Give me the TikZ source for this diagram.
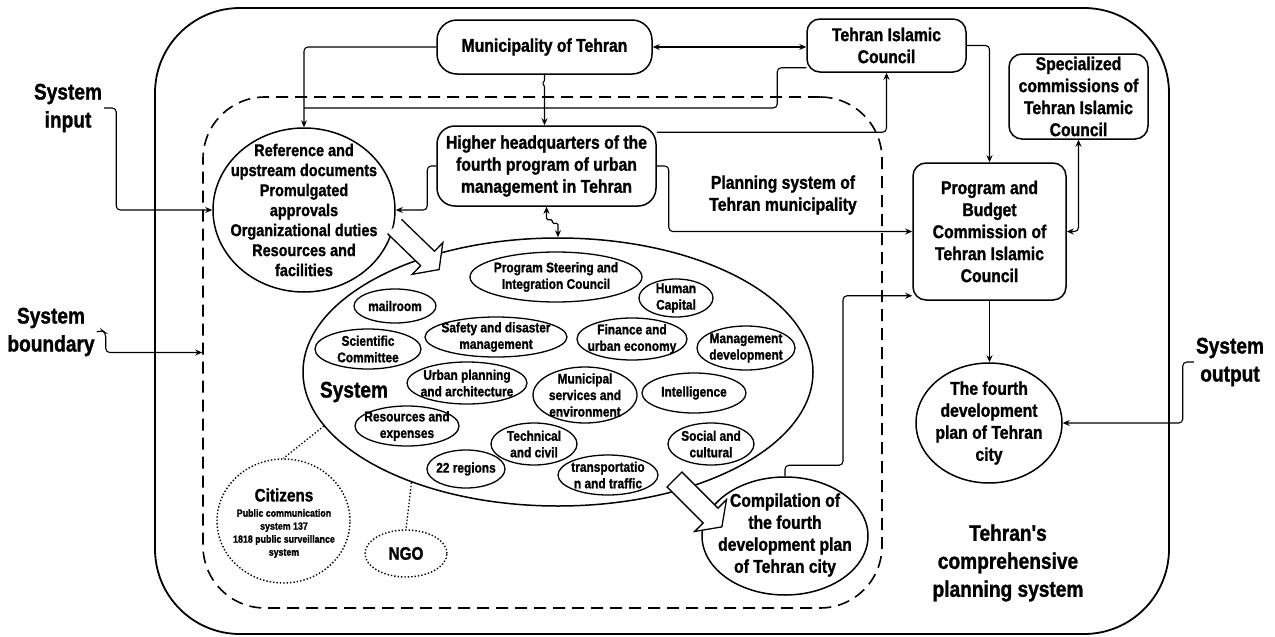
\documentclass[tikz,border=0pt]{standalone}
\usepackage{fontspec}
\setmainfont{Liberation Sans}[FakeStretch=0.85]
\newfontfamily\dfont{Liberation Sans}[FakeStretch=0.85, BoldFeatures={FakeBold=1.3}]
\usetikzlibrary{shapes.geometric,arrows.meta,calc}
\tikzset{
  >={Stealth[length=7pt,width=6pt]},
  frame/.style={draw, line width=1.8pt, rounded corners=85pt, minimum width=1014pt, minimum height=626pt, inner sep=0pt},
  bound/.style={draw, line width=1.6pt, dash pattern=on 12pt off 7pt, rounded corners=62pt, minimum width=679pt, minimum height=511pt, inner sep=0pt},
  box/.style={draw, line width=1.5pt, rounded corners=13pt, inner sep=0pt, align=center, font=\dfont\bfseries\fontsize{18.5}{22}\selectfont},
  ov/.style={draw, ellipse, line width=1.5pt, inner sep=0pt},
  sov/.style={draw, ellipse, line width=1.3pt, inner sep=0pt},
  dov/.style={draw, ellipse, line width=1.4pt, dash pattern=on 1.4pt off 2pt, inner sep=0pt},
  bigtxt/.style={align=center, inner sep=0pt, font=\dfont\bfseries\fontsize{18.5}{22}\selectfont},
  reftxt/.style={align=center, inner sep=0pt, font=\dfont\bfseries\fontsize{17}{20}\selectfont},
  smtxt/.style={align=center, inner sep=0pt, font=\dfont\bfseries\fontsize{14}{16.5}\selectfont},
  tinytxt/.style={align=center, inner sep=0pt, font=\dfont\bfseries\fontsize{10.4}{13}\selectfont},
  lab/.style={align=center, inner sep=2pt, font=\dfont\bfseries\fontsize{22.5}{28}\selectfont},
  conn/.style={line width=1.1pt, rounded corners=4pt},
  dotl/.style={line width=1.3pt, dash pattern=on 1.4pt off 2pt},
  blockarrow/.style={line width=1.3pt, fill=white, line join=miter}
}
\newcommand{\myoval}[5]{\node[sov, minimum width=#3, minimum height=#4] (#1) at (#2) {}; \node[smtxt] at (#1) {#5};}
\begin{document}
\begin{tikzpicture}[x=1pt,y=-1pt]
\useasboundingbox (0,0) rectangle (1275,637);
% frames
\node[frame] (frame) at (662,321) {};
\node[bound] (bnd) at (542.5,352.5) {};
% boxes
\node[box, minimum width=215pt, minimum height=54pt, rounded corners=20pt] (muni) at (544.5,47) {Municipality of Tehran};
\node[box, minimum width=159pt, minimum height=53pt] (council) at (886.5,45.5) {Tehran Islamic\\Council};
\node[box, minimum width=139pt, minimum height=85pt] (spec) at (1078.5,96.5) {Specialized\\commissions of\\Tehran Islamic\\Council};
\node[box, minimum width=219pt, minimum height=80pt, rounded corners=18pt] (hq) at (546.5,166) {Higher headquarters of the\\fourth program of urban\\management in Tehran};
\node[box, minimum width=153pt, minimum height=137pt] (pb) at (989.5,231.5) {Program and\\Budget\\Commission of\\Tehran Islamic\\Council};
% big ellipses
\node[ov, minimum width=182pt, minimum height=164pt] (ref) at (304,210) {};
\node[reftxt] at (ref) {Reference and\\upstream documents\\Promulgated\\approvals\\Organizational duties\\Resources and\\facilities};
\node[ov, minimum width=146pt, minimum height=120pt] (plan) at (989,423) {};
\node[bigtxt] at (plan) {The fourth\\development\\plan of Tehran\\city};
\node[ov, minimum width=510pt, minimum height=268pt] (sys) at (558,372) {};
\node[ov, minimum width=166pt, minimum height=118pt] (comp) at (785,536) {};
\node[bigtxt] at (785,535) {Compilation of\\the fourth\\development plan\\of Tehran city};
% system members
\myoval{psic}{556,277}{172pt}{50pt}{Program Steering and\\Integration Council}
\myoval{human}{676,298}{74pt}{38pt}{Human\\Capital}
\myoval{mail}{395,306}{82pt}{34pt}{mailroom}
\myoval{sci}{368,349}{106pt}{40pt}{Scientific\\Committee}
\myoval{safe}{496,337}{142pt}{40pt}{Safety and disaster\\management}
\myoval{fin}{632,339}{110pt}{42pt}{Finance and\\urban economy}
\myoval{mgmt}{746,348}{98pt}{44pt}{Management\\development}
\myoval{urban}{467,383}{120pt}{42pt}{Urban planning\\and architecture}
\myoval{muns}{585,395}{104pt}{56pt}{Municipal\\services and\\environment}
\myoval{intel}{694,393}{104pt}{40pt}{Intelligence}
\myoval{res}{407,426}{104pt}{40pt}{Resources and\\expenses}
\myoval{tech}{534,444}{86pt}{42pt}{Technical\\and civil}
\myoval{soc}{711,444}{86pt}{42pt}{Social and\\cultural}
\myoval{reg}{466,469}{78pt}{38pt}{22 regions}
\myoval{trans}{608,475}{100pt}{40pt}{transportatio\\n and traffic}
\node[lab, inner sep=0pt] (syslab) at (354,392) {System};
% citizens and NGO
\node[dov, minimum width=133pt, minimum height=124pt] (cit) at (283.5,521) {};
\node[align=center, inner sep=0pt, font=\dfont\bfseries\fontsize{18}{20}\selectfont] (citlab) at (284,495) {Citizens};
\node[tinytxt] (citsub) at (284,533.5) {Public communication\\system 137\\1818 public surveillance\\system};
\node[dov, minimum width=82pt, minimum height=47pt] (ngo) at (406,553.5) {};
\node[align=center, inner sep=0pt, font=\dfont\bfseries\fontsize{18}{20}\selectfont] at (ngo) {NGO};
\draw[dotl] (sys.193) -- (cit.north);
\draw[dotl] (sys.217) -- (ngo.north);
% free labels
\node[lab] (inlab) at (68,108) {System\\input};
\node[lab] (bdlab) at (51,332) {System\\boundary};
\node[lab] (outlab) at (1230,362) {System\\output};
\node[bigtxt] (plsys) at (783,195) {Planning system of\\Tehran municipality};
\node[lab, inner sep=0pt] (tcps) at (1008,563) {Tehran's\\comprehensive\\planning system};
% connectors
\draw[conn,->] (inlab.east) -- ++(12,0) |- (ref.west);
\draw[conn,->] (bdlab.east) -- ++(5,-2) -- ++(4,3) |- (bnd.west);
\draw[conn,->] (outlab.west) -- ++(-11,0) |- (plan.east);
\draw[conn,->] (muni.west) -| (ref.north);
\coordinate (j1) at (ref.north |- 0,108);
\draw[conn] ([yshift=5pt]council.south west) -- ++(-29,0) |- (j1);
\draw[conn,<->] (muni.east) -- (muni.east -| council.west);
\draw[conn,->,rounded corners=1pt] (muni.south) -- ++(0,6) -- ++(-2,3) -- ++(2,2) -- (muni.south |- hq.north);
\draw[conn,->] ([yshift=-7pt]hq.north east) -| (council.south);
\draw[conn,->] (hq.west) -- ++(-9,0) |- (ref.east);
\draw[conn,->] (hq.east) -- ++(12,0) |- (pb.west);
\draw[conn,<->,rounded corners=1.5pt] (hq.south) -- ++(0,13) -- ++(6,0) -- ++(0,4) -- (sys.north |- 0,223) -- (sys.north);
\draw[conn,->] (council.east) -| (pb.north);
\draw[conn,<->] (spec.south) |- (pb.east);
\draw[conn,->] (comp.north) -- ++(0,-11) -- ++(58,0) |- ([yshift=5pt]pb.south west);
\draw[conn,->] (pb.south) -- (pb.south |- plan.north);
% block arrows
\begin{scope}[shift={(394.5,226.5)},rotate=-44]
\fill[white] (0,-10) -- (46,-10) -- (46,-22) -- (62,0) -- (46,22) -- (46,10) -- (0,10) -- cycle;
\draw[line width=1.3pt, line join=miter] (0,-10) -- (46,-10) -- (46,-22) -- (62,0) -- (46,22) -- (46,10) -- (0,10);
\end{scope}
\begin{scope}[shift={(674.5,479.5)},rotate=-45]
\draw[blockarrow] (0,-10.5) -- (51,-10.5) -- (51,-22.5) -- (67,0) -- (51,22.5) -- (51,10.5) -- (0,10.5) -- cycle;
\end{scope}
\end{tikzpicture}
\end{document}
